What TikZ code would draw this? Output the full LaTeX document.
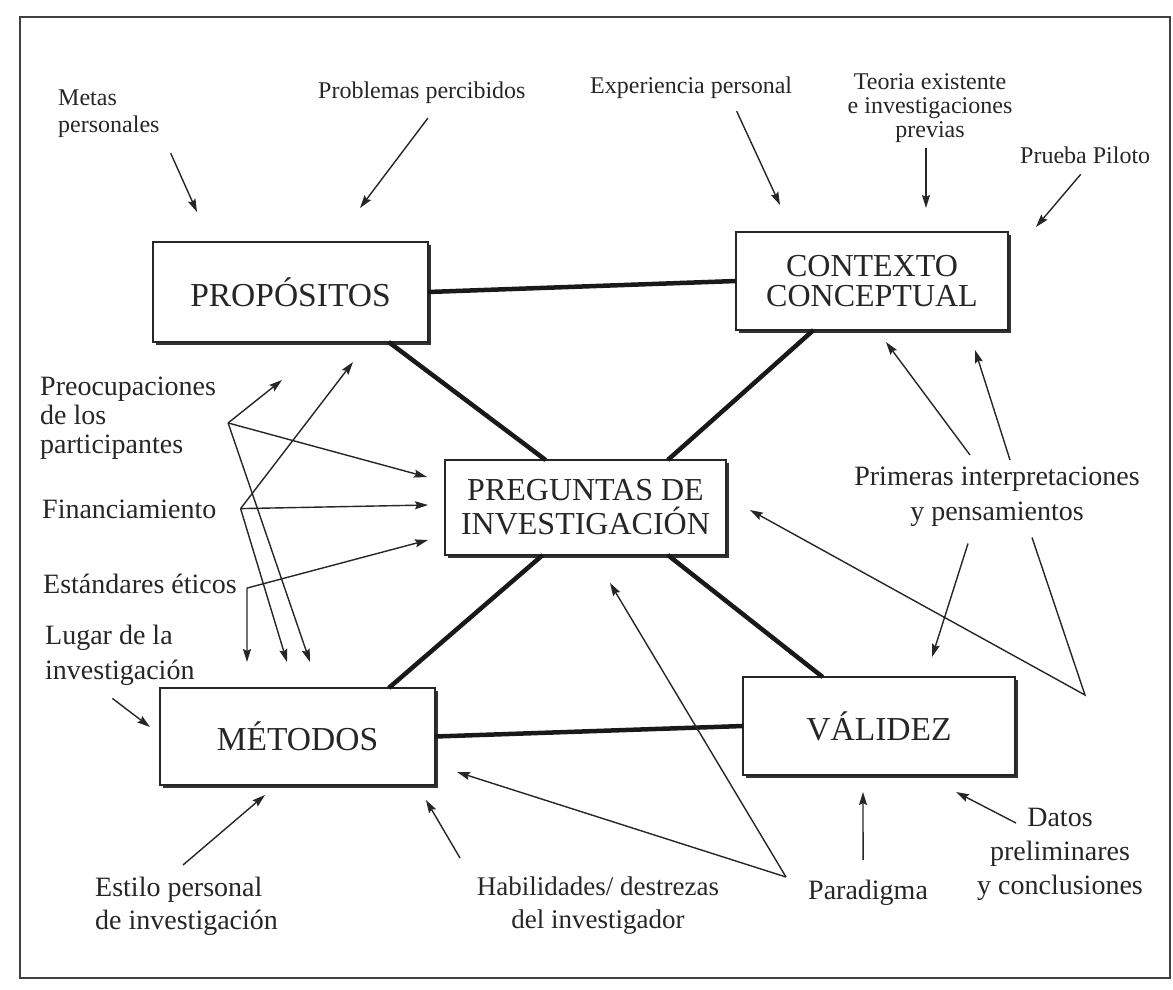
\documentclass[tikz,border=0pt]{standalone}
\usepackage{fontspec}
\setmainfont{Liberation Serif}
\usetikzlibrary{arrows.meta, shadows}

\begin{document}
\begin{tikzpicture}[
    x=1pt, y=1pt,
    concept/.style={rectangle, draw=black!85, line width=2pt, fill=white, inner sep=0pt, outer sep=0pt,
        minimum width=275pt, minimum height=98pt, align=center, font=\fontsize{33.5}{31}\selectfont, text=black!85,
        drop shadow={shadow xshift=3pt, shadow yshift=-3pt, opacity=1, fill=black!80}},
    toplabel/.style={inner sep=0pt, font=\fontsize{24}{25}\selectfont, text=black!85},
    sidelabel/.style={inner sep=0pt, font=\fontsize{28}{29}\selectfont, text=black!85},
    influence/.style={draw=black!85, line width=1.4pt, -{Stealth[length=13pt, width=8pt, inset=2pt]}},
    link/.style={draw=black!90, line width=4.5pt}
]

\useasboundingbox (0,0) rectangle (1173,-989);
\draw[line width=2pt, black!75] (20,-17) rectangle (1170,-978);

% ============= BOXES =============
\node[concept, minimum height=100pt] (prop) at (290.5,-292) {PROPÓSITOS};
\node[concept, minimum width=272pt, font=\fontsize{32}{30}\selectfont] (ctx) at (872,-281) {CONTEXTO\\CONCEPTUAL};
\node[concept, minimum width=281pt, minimum height=95pt, font=\fontsize{32}{34}\selectfont] (preg) at (585.5,-507.5) {PREGUNTAS DE\\INVESTIGACIÓN};
\node[concept, minimum height=97pt] (met) at (297.5,-736.5) {MÉTODOS};
\node[concept, minimum width=272pt] (val) at (879,-726) {VÁLIDEZ};

% Links between boxes
\draw[link] (prop.east) -- (ctx.west);
\draw[link] (prop.-27) -- (preg.130);
\draw[link] (ctx.-140) -- (preg.30);
\draw[link] (preg.-132) -- (met.28);
\draw[link] (preg.-30) -- (val.139);
\draw[link] (met.east) -- (val.west);

% ============= TOP LABELS =============
\node[toplabel, anchor=north west, align=left, font=\fontsize{24}{27}\selectfont] (metas) at (58,-90) {Metas\\personales};
\node[toplabel, anchor=north west] (probl) at (318,-82) {Problemas percibidos};
\node[toplabel, anchor=north west] (exper) at (590,-77) {Experiencia personal};
\node[toplabel, anchor=north, align=center, font=\fontsize{24}{24}\selectfont] (teoria) at (930,-73) {Teoria existente\\e investigaciones\\previas};
\node[toplabel, anchor=north west] (prueba) at (1020,-147) {Prueba Piloto};

\draw[influence] ([shift={(11,-15)}]metas.south east) -- ([shift={(44,30)}]prop.north west);
\draw[influence] ([shift={(6,-14)}]probl.south) -- ([shift={(-68,34)}]prop.north east);
\draw[influence] ([shift={(45.5,-12)}]exper.south) -- ([shift={(44,27)}]ctx.north west);
\draw[influence] ([shift={(-4,-6)}]teoria.south) -- ([shift={(54,24)}]ctx.north);
\draw[influence] ([shift={(-4.5,-10)}]prueba.south) -- ([shift={(28,5)}]ctx.north east);

% ============= LEFT LABELS =============
\node[sidelabel, anchor=north west, align=left] (preoc) at (40,-377) {Preocupaciones\\de los\\participantes};
\node[sidelabel, anchor=north west] (financ) at (42,-500) {Financiamiento};
\node[sidelabel, anchor=north west] (estand) at (43,-574) {Estándares éticos};
\node[sidelabel, anchor=north west, align=left, font=\fontsize{28}{35}\selectfont] (lugar) at (45,-625) {Lugar de la\\investigación};

\coordinate (kpreoc) at ([shift={(12,-4.5)}]preoc.east);
\coordinate (kfinanc) at ([shift={(24,1)}]financ.east);
\coordinate (ketic) at ([shift={(10,-4)}]estand.east);

\draw[influence] (kpreoc) -- ([shift={(129,-38)}]prop.south west);
\draw[influence] (kpreoc) -- ([shift={(-18,30.5)}]preg.west);
\draw[influence] (kpreoc) -- ([shift={(12.5,26)}]met.north);
\draw[influence] (kfinanc) -- ([shift={(200,-20)}]prop.south west);
\draw[influence] (kfinanc) -- ([shift={(-17,2.5)}]preg.west);
\draw[influence] (kfinanc) -- ([shift={(-10.5,26)}]met.north);
\draw[influence] (ketic) -- ([shift={(-17,-32.5)}]preg.west);
\draw[influence] (ketic) -- ([shift={(-50.5,26)}]met.north);
\draw[influence] ([shift={(-7.5,-12.5)}]lugar.south) -- ([shift={(-10,9.5)}]met.west);

% ============= RIGHT LABEL =============
\node[sidelabel, anchor=north, align=center, font=\fontsize{28}{35}\selectfont] (primeras) at (997,-467) {Primeras interpretaciones\\y pensamientos};
\coordinate (vprim) at (1085,-695);

\draw[influence] ([shift={(-27,12)}]primeras.north) -- ([shift={(14,-12)}]ctx.south);
\draw[influence] ([shift={(13,7)}]primeras.north) -- ([shift={(103,-20)}]ctx.south);
\draw[influence] ([shift={(-29,-16.5)}]primeras.south) -- ([shift={(53,20)}]val.north);
\draw[influence] ([shift={(35,-10.5)}]primeras.south) -- (vprim) -- ([shift={(24,-2.5)}]preg.east);

% ============= BOTTOM LABELS =============
\node[sidelabel, anchor=north west, align=left, font=\fontsize{28}{33}\selectfont] (estilo) at (95,-877) {Estilo personal\\de investigación};
\node[sidelabel, anchor=north, align=center, font=\fontsize{27}{33}\selectfont] (habil) at (598,-877) {Habilidades/ destrezas\\del investigador};
\node[sidelabel, anchor=north west] (parad) at (808,-880) {Paradigma};
\node[sidelabel, anchor=north, align=center, font=\fontsize{28}{34}\selectfont] (datos) at (1060,-808) {Datos\\preliminares\\y conclusiones};

\coordinate (vparad) at ([shift={(-22,3)}]parad.north west);

\draw[influence] ([shift={(88,12)}]estilo.north west) -- ([shift={(-32.5,-10)}]met.south);
\draw[influence] ([shift={(-138,19)}]habil.north) -- ([shift={(-9,-15)}]met.south east);
\draw[influence] (vparad) -- ([shift={(22,13)}]met.south east);
\draw[influence] (vparad) -- ([shift={(24.5,-28)}]preg.south);
\draw[influence] ([shift={(-5,20)}]parad.north) -- ([shift={(-16,-17)}]val.south);
\draw[influence] ([shift={(-44,-15)}]datos.north) -- ([shift={(77,-17)}]val.south);

\end{tikzpicture}
\end{document}
